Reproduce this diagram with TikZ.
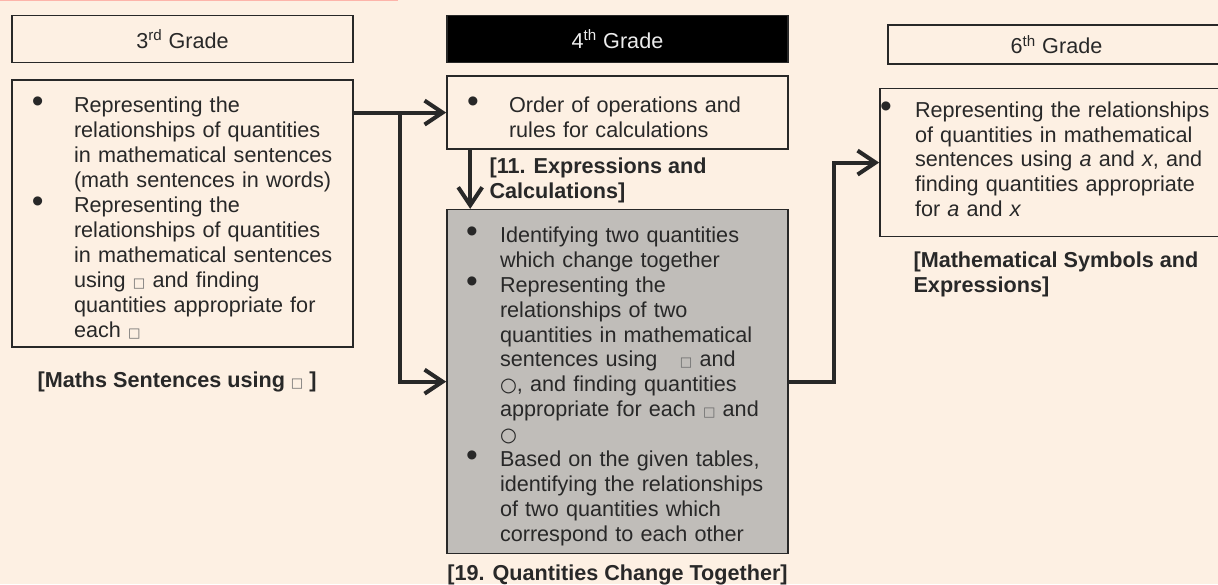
\documentclass[tikz,border=0pt]{standalone}
\usepackage{fontspec}
\setmainfont{Liberation Sans}
\newfontfamily\symfont{DejaVu Sans}
\usetikzlibrary{positioning, arrows.meta}

\definecolor{paper}{RGB}{253,240,227}
\definecolor{ink}{RGB}{40,40,40}
\definecolor{shade}{RGB}{192,189,185}

% small symbols used in the texts
\newcommand{\sqr}{{\color{ink!70}\symfont\fontsize{7.5}{7}\selectfont □}}
\newcommand{\crc}{{\symfont\fontsize{11}{11}\selectfont ○}}

% bullet lists inside the boxes
\newlength\bulpos
\newlength\bulind
\newcommand{\bulletmark}{{\fontsize{19}{14}\selectfont\textbullet}}
\newcommand{\itm}{\par\leftskip=\bulind\noindent\llap{\makebox[\bulind][l]{\hspace{\bulpos}\bulletmark}}}

\tikzset{
    head/.style={draw=ink, line width=0.9pt, minimum width=6.82cm, minimum height=0.94cm,
        text=ink, font=\fontsize{12.3}{14.2}\selectfont}, % grade titles
    list/.style 2 args={draw=ink, line width=0.9pt, inner sep=0pt, text width=6.82cm,
        align=left, text=ink, font=\fontsize{12.3}{14.2}\selectfont,
        execute at begin node={\setlength\bulpos{#1}\setlength\bulind{#2}}}, % content boxes
    tag/.style={inner sep=0pt, align=left, text=ink,
        font=\fontsize{12.3}{14.2}\selectfont\bfseries}, % unit names
    link/.style={draw=ink, line width=2.3pt, -{Straight Barb[length=3.6mm,width=4.8mm]}},
}

\begin{document}
\begin{tikzpicture}
\fill[paper] (0,0) rectangle (24.36,-11.68);
\useasboundingbox (0,0) rectangle (24.36,-11.68);
\draw[red!25!paper, line width=1pt] (0,-0.01) -- (7.96,-0.01);

% grade titles
\node[head] (h3) at (3.65,-0.78) {3\textsuperscript{rd} Grade};
\node[head, fill=black, text=white!85!gray] (h4) at (12.35,-0.78) {4\textsuperscript{th} Grade};
\node[head, minimum width=6.74cm, minimum height=0.78cm] (h6) at (21.13,-0.89) {6\textsuperscript{th} Grade};

% 3rd grade
\node[list={0.40cm}{1.24cm}, minimum height=5.34cm, below=0.32cm of h3] (b3) {%
    \itm Representing the\\ relationships of quantities\\ in mathematical sentences\\ (math sentences in words)
    \itm Representing the\\ relationships of quantities\\ in mathematical sentences\\ using \sqr{} and finding\\ quantities appropriate for\\ each \sqr\par};
\node[tag, below right=0.48cm and 0.52cm of b3.south west] (t3) {[Maths Sentences using \sqr\ ]};

% 4th grade
\node[list={0.40cm}{1.24cm}, minimum height=1.46cm, below=0.24cm of h4] (ob) {%
    \itm Order of operations and\\ rules for calculations\par};
\node[tag, below right=0.16cm and 0.86cm of ob.south west] (t11) {[11. Expressions and\\Calculations]};
\node[list={0.38cm}{1.06cm}, fill=shade, minimum height=6.88cm, below=1.18cm of ob] (gb) {%
    \itm Identifying two quantities\\ which change together
    \itm Representing the\\ relationships of two\\ quantities in mathematical\\ sentences using\hspace{0.45cm}\sqr{} and\\ \crc, and finding quantities\\ appropriate for each \sqr{} and\\ \crc
    \itm Based on the given tables,\\ identifying the relationships\\ of two quantities which\\ correspond to each other\par};
\node[tag, below=0.2cm of gb] (t19) {[19. Quantities Change Together]};

% 6th grade
\node[list={0cm}{0.7cm}, text width=6.9cm, minimum height=2.96cm, below=0.46cm of h6, xshift=-0.08cm] (b6) {%
    \itm Representing the relationships\\ of quantities in mathematical\\ sentences using \textit{a} and \textit{x}, and\\ finding quantities appropriate\\ for \textit{a} and \textit{x}\par\vspace{0.32cm}};
\node[tag, below right=0.28cm and 0.68cm of b6.south west] (t6) {[Mathematical Symbols and\\Expressions]};

% connections
\coordinate (split) at ([xshift=0.92cm]b3.east);
\coordinate (bend) at ([xshift=0.9cm]gb.east);
\draw[link] (b3.east |- ob.west) -- (ob.west);
\draw[link] (split |- ob.west) |- (gb.west);
\draw[link] ([xshift=0.48cm]ob.south west) -- ([xshift=0.48cm]gb.north west);
\draw[link] (gb.east) -- (bend) |- (b6.west);
\end{tikzpicture}
\end{document}
